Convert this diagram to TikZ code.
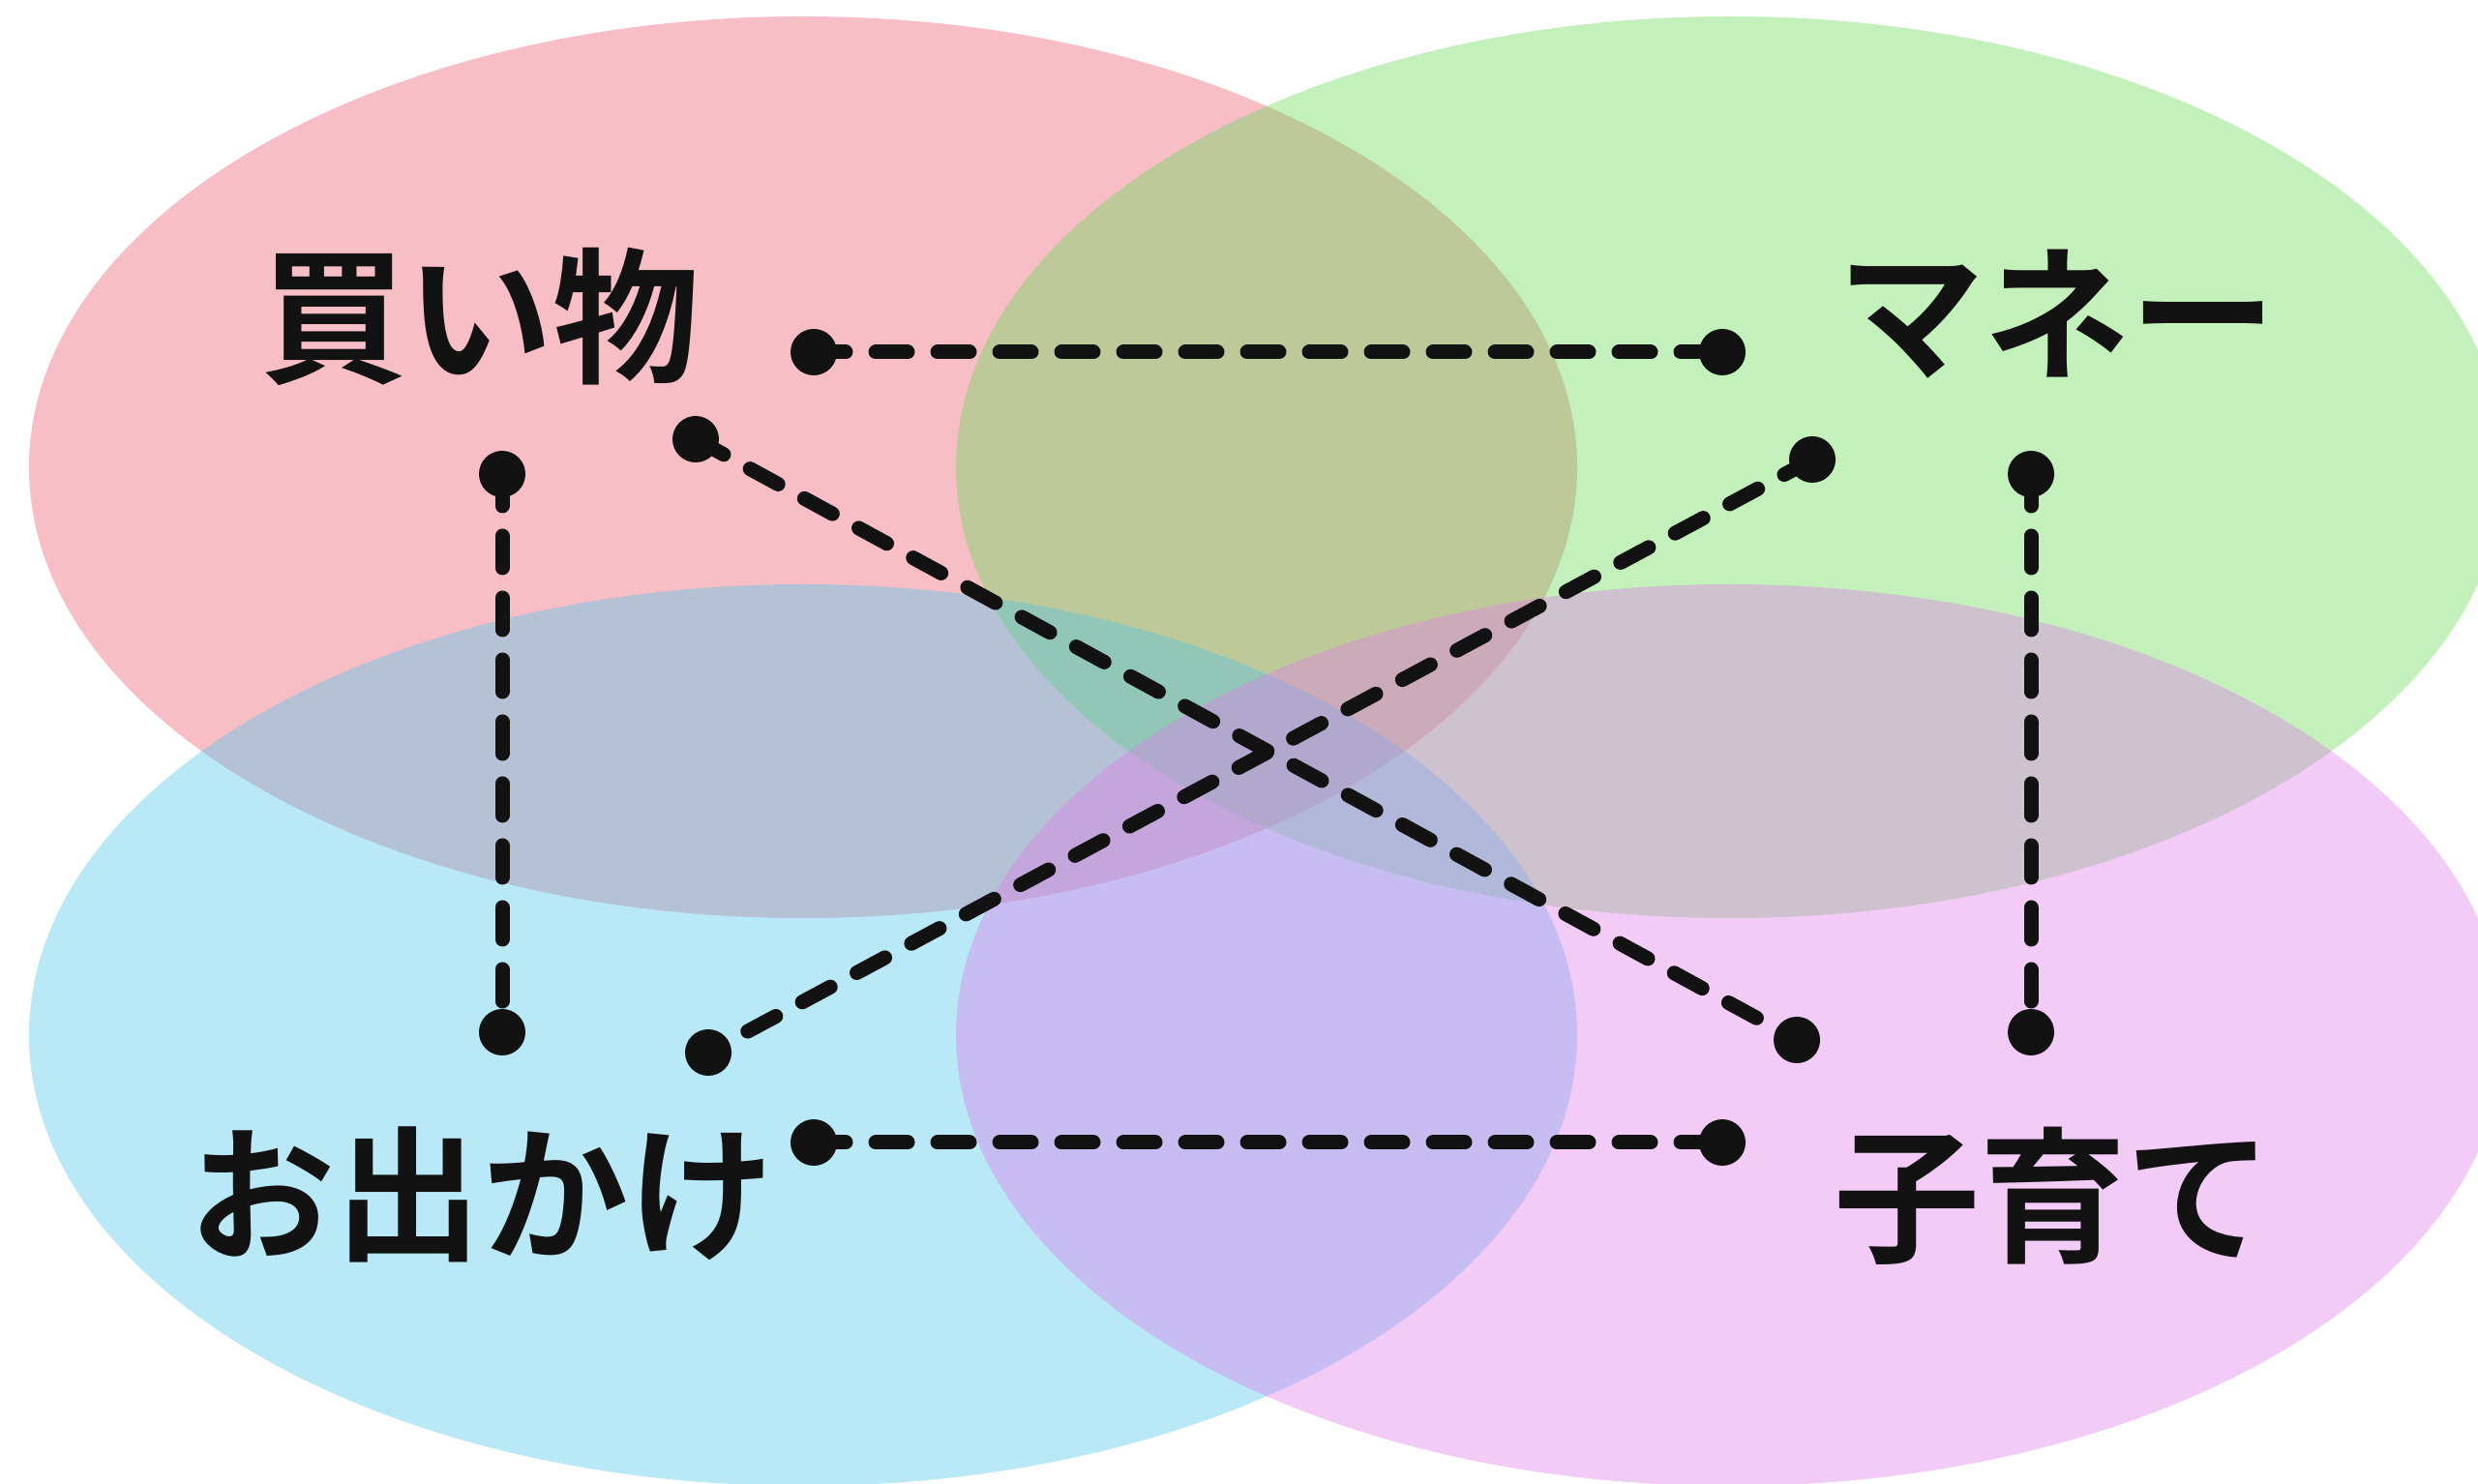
\documentclass[tikz,border=0pt]{standalone}
\usepackage{fontspec}
\usepackage{xcolor}
\usepackage{tikz}
\usetikzlibrary{positioning,calc}
\newfontfamily\jpfont{Noto Sans CJK JP Bold}

\definecolor{shopC}{RGB}{238,93,113}
\definecolor{moneyC}{RGB}{105,218,85}
\definecolor{outC}{RGB}{80,198,233}
\definecolor{childC}{RGB}{223,125,235}
\definecolor{inkC}{RGB}{18,18,18}

\begin{document}
\begin{tikzpicture}[
    blob/.style={fill opacity=0.4},
    label/.style={text=inkC, font=\jpfont\fontsize{43}{50}\selectfont, inner sep=0pt},
    dot/.style={circle, fill=inkC, minimum size=0.48cm, inner sep=0pt},
    link/.style={draw=inkC, line width=0.15cm, line cap=round, dash pattern=on 0.33cm off 0.31cm}]
    \useasboundingbox (0,0) rectangle (25.61,15.33);

    % circles of the four themes
    \fill[blob, shopC] (8.30,10.50) ellipse [x radius=8, y radius=4.66];
    \fill[blob, moneyC] (17.88,10.50) ellipse [x radius=8, y radius=4.66];
    \fill[blob, outC] (8.30,4.63) ellipse [x radius=8, y radius=4.66];
    \fill[blob, childC] (17.88,4.63) ellipse [x radius=8, y radius=4.66];

    % labels
    \node[label] (shop) at (4.96,12.06) {買い物};
    \node[label] (money) at (21.26,12.08) {マネー};
    \node[label] (out) at (4.98,2.98) {お出かけ};
    \node[label] (child) at (21.22,2.97) {子育て};

    % end points
    \node[dot] (s1) at (8.41,11.69) {};
    \node[dot] (m1) at (17.80,11.69) {};
    \node[dot] (s2) at (7.19,10.79) {};
    \node[dot] (c2) at (18.57,4.58) {};
    \node[dot] (s3) at (5.19,10.43) {};
    \node[dot] (o3) at (5.19,4.66) {};
    \node[dot] (m4) at (18.73,10.58) {};
    \node[dot] (o4) at (7.32,4.45) {};
    \node[dot] (m5) at (20.99,10.43) {};
    \node[dot] (c5) at (20.99,4.66) {};
    \node[dot] (o6) at (8.41,3.52) {};
    \node[dot] (c6) at (17.80,3.52) {};

    % links
    \draw[link] (s1.center) -- (m1.center);
    \draw[link] (s2.center) -- (c2.center);
    \draw[link] (s3.center) -- (o3.center);
    \draw[link] (m4.center) -- (o4.center);
    \draw[link] (m5.center) -- (c5.center);
    \draw[link] (o6.center) -- (c6.center);
\end{tikzpicture}
\end{document}
